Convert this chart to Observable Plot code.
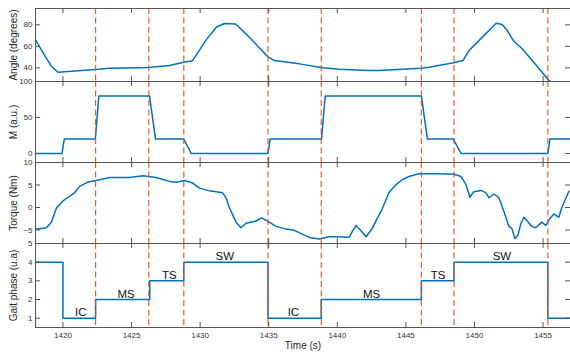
<!DOCTYPE html>
<html><head><meta charset="utf-8">
<script src="https://cdn.jsdelivr.net/npm/d3@7"></script>
<script src="https://cdn.jsdelivr.net/npm/@observablehq/plot@0.6"></script>
<style>
body{margin:0;background:#fff;}
#wrap{position:relative;width:570px;height:354px;overflow:hidden;}
#wrap > svg{position:absolute;left:0;}
</style></head><body><div id="wrap"></div>
<script>
// ---- data ----
const xDomain = [1418, 1457];
const xTicks = [1420, 1425, 1430, 1435, 1440, 1445, 1450, 1455];
const eventTimes = [1422.38, 1426.26, 1428.81, 1434.95, 1438.83, 1446.13, 1448.51, 1455.35];

const angleTime  = [1418.0, 1418.67, 1419.18, 1419.64, 1420.12, 1422.38, 1423.40, 1426.24, 1427.77, 1428.81, 1429.44, 1430.44, 1431.2, 1431.77, 1432.6, 1433.59, 1434.92, 1435.41, 1437.23, 1438.92, 1440.14, 1442.32, 1443.05, 1446.08, 1446.69, 1448.38, 1449.16, 1449.60, 1450.09, 1450.81, 1451.59, 1452.02, 1452.39, 1452.87, 1453.48, 1454.21, 1454.93, 1455.42, 1455.75];
const angleValue = [66.0, 51.4, 41.2, 35.9, 36.3, 38.4, 39.6, 40.3, 42.1, 45.2, 46.5, 66.0, 78.0, 81.2, 80.8, 68.5, 50.5, 46.8, 43.7, 40.0, 38.7, 37.5, 37.5, 39.6, 40.6, 44.6, 46.8, 56.1, 62.3, 71.6, 81.5, 80.3, 74.7, 64.7, 57.7, 46.8, 35.9, 28.2, 26.0];

const mTime  = [1418, 1419.93, 1420.1, 1422.36, 1422.62, 1426.31, 1426.75, 1428.81, 1429.35, 1434.95, 1435.1, 1438.85, 1439.12, 1446.13, 1446.57, 1448.46, 1449.02, 1455.35, 1455.5, 1457];
const mValue = [0, 0, 20, 20, 80, 80, 20, 20, 0, 0, 20, 20, 80, 80, 20, 20, 0, 0, 20, 20];

const torqueTime  = [1418.0, 1418.79, 1419.16, 1419.52, 1420.0, 1420.49, 1420.85, 1421.22, 1421.82, 1422.43, 1423.40, 1424.85, 1425.82, 1426.80, 1427.77, 1428.25, 1428.86, 1429.46, 1429.95, 1430.68, 1431.64, 1431.89, 1432.13, 1432.62, 1432.98, 1433.35, 1434.08, 1434.48, 1434.92, 1435.53, 1436.14, 1436.86, 1437.45, 1437.96, 1438.68, 1439.41, 1440.14, 1440.87, 1441.08, 1441.37, 1441.81, 1442.10, 1442.54, 1442.83, 1443.27, 1443.78, 1444.29, 1444.72, 1445.23, 1445.96, 1447.42, 1448.51, 1449.02, 1449.38, 1449.67, 1449.96, 1450.47, 1450.84, 1451.05, 1451.42, 1451.78, 1452.0, 1452.29, 1452.51, 1452.73, 1452.95, 1453.17, 1453.38, 1453.60, 1453.82, 1454.18, 1454.47, 1454.91, 1455.20, 1455.42, 1455.78, 1456.15, 1456.37, 1456.88];
const torqueValue = [-4.85, -4.5, -3.26, -0.14, 1.46, 2.5, 3.26, 4.7, 5.65, 6.0, 6.67, 6.67, 7.04, 6.67, 5.8, 5.6, 6.0, 5.43, 4.3, 3.7, 3.26, 2.17, 0, -3.26, -4.5, -3.5, -3.0, -2.3, -3.04, -4.2, -4.7, -5.07, -5.93, -6.65, -7.0, -6.5, -6.5, -6.6, -5.43, -4.0, -5.43, -6.5, -4.7, -2.9, -0.35, 3.4, 5.1, 6.17, 6.9, 7.5, 7.5, 7.4, 6.9, 5.1, 2.3, 3.5, 3.8, 3.26, 2.17, 3.0, 2.17, 0.37, -2.17, -4.2, -4.7, -6.87, -6.15, -3.6, -2.17, -2.9, -4.2, -4.5, -3.26, -4.0, -2.75, -1.43, -2.17, 0, 3.6];

const phaseTime  = [1418, 1420, 1422.38, 1426.33, 1428.81, 1434.95, 1438.83, 1446.13, 1448.51, 1455.35, 1457];
const phaseValue = [4, 1, 2, 3, 4, 1, 2, 3, 4, 1, 1];
const phaseLabels = ["IC", "MS", "TS", "SW", "IC", "MS", "TS", "SW"];
const phaseLabelTime = [1421.3, 1424.6, 1427.75, 1431.8, 1436.8, 1442.5, 1447.35, 1452.0];
const phaseLabelLevel = [1, 2, 3, 4, 1, 2, 3, 4];

const angleTicks = [40, 60, 80];
const mTicks = [0, 50, 100];
const torqueTicks = [-5, 0, 5, 10];
const phaseTicks = [1, 2, 3, 4, 5];

// ---- tables ----
const zip = (t, v) => t.map((d, i) => ({t: d, v: v[i]}));
const angleData = zip(angleTime, angleValue);
const mData = zip(mTime, mValue);
const torqueData = zip(torqueTime, torqueValue);
const phaseData = zip(phaseTime, phaseValue);
const labelData = phaseLabels.map((s, i) => ({s, t: phaseLabelTime[i], v: phaseLabelLevel[i]}));

const BLUE = "#0072BD", ORANGE = "#D95319", AX = "#555";
const FONT = "'Liberation Sans', Arial, Helvetica, sans-serif";
const W = 570, ML = 35, MR = 0;

function panel({top, height, marginTop = 0, marginBottom = 0, yDomain, yTicks, label, marks, xLabels = false}) {
  const innerH = height - marginTop - marginBottom;
  const innerW = W - ML - MR;
  const all = [
    ...marks,
    Plot.ruleX(eventTimes, {x: d => d, stroke: ORANGE, strokeWidth: 1.2, strokeDasharray: "6,3.5", strokeOpacity: 0.9}),
    Plot.frame({stroke: AX, strokeWidth: 1}),
    Plot.tickX(xTicks, {x: d => d, insetTop: innerH - 5, stroke: AX}),
    Plot.tickX(xTicks, {x: d => d, insetBottom: innerH - 5, stroke: AX}),
    Plot.tickY(yTicks, {y: d => d, insetRight: innerW - 5, stroke: AX}),
    Plot.tickY(yTicks, {y: d => d, insetLeft: innerW - 5, stroke: AX}),
    Plot.axisY(yTicks, {tickSize: 0, tickPadding: 3, label: null, tickFormat: "d", fill: "#333", fontSize: 8}),
    Plot.text([label], {frameAnchor: "left", text: d => d, rotate: -90, textAnchor: "middle", dx: -22, fontSize: 10, fill: "#262626"})
  ];
  if (xLabels) {
    all.push(Plot.axisX(xTicks, {tickSize: 0, tickPadding: 5, label: null, tickFormat: "d", fill: "#333", fontSize: 8}));
    all.push(Plot.text(["Time (s)"], {frameAnchor: "bottom", text: d => d, textAnchor: "middle", dy: 21, fontSize: 10, fill: "#262626"}));
  }
  const svg = Plot.plot({
    width: W, height, marginLeft: ML, marginRight: MR, marginTop, marginBottom,
    x: {domain: xDomain, axis: xLabels ? undefined : null},
    y: {domain: yDomain},
    style: {overflow: "visible", background: "transparent", fontFamily: FONT, fontSize: "8px", color: "#333"},
    marks: all
  });
  svg.style.top = top + "px";
  document.getElementById("wrap").appendChild(svg);
}

panel({top: 0, height: 81, marginTop: 8, yDomain: [27.3, 95.2], yTicks: angleTicks, label: "Angle (degrees)",
  marks: [Plot.line(angleData, {x: "t", y: "v", stroke: BLUE, strokeWidth: 1.5, clip: true})]});
panel({top: 81, height: 81, yDomain: [-12.5, 100], yTicks: mTicks, label: "M (a.u.)",
  marks: [Plot.line(mData, {x: "t", y: "v", stroke: BLUE, strokeWidth: 1.5})]});
panel({top: 162, height: 81, yDomain: [-8, 10], yTicks: torqueTicks, label: "Torque (Nm)",
  marks: [Plot.line(torqueData, {x: "t", y: "v", stroke: BLUE, strokeWidth: 1.5, clip: true})]});
panel({top: 243, height: 111, marginBottom: 27, yDomain: [0.5, 5], yTicks: phaseTicks, label: "Gait phase (u.a)", xLabels: true,
  marks: [
    Plot.line(phaseData, {x: "t", y: "v", curve: "step-after", stroke: BLUE, strokeWidth: 1.5}),
    Plot.text(labelData, {x: "t", y: "v", text: "s", lineAnchor: "bottom", dy: -2, fontSize: 11.5, fill: "#111"})
  ]});
</script></body></html>
